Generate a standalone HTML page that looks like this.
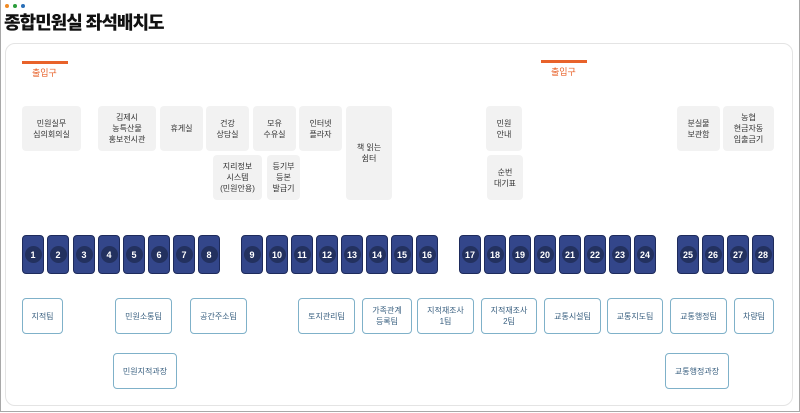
<!DOCTYPE html>
<html><head><meta charset="utf-8"><style>
body{margin:0;width:800px;height:413px;background:#fff;position:relative;overflow:hidden;font-family:"Liberation Sans","Noto Sans CJK KR",sans-serif}
.frame{position:absolute;left:0;top:0;width:798px;height:411px;border:1px solid #a8a8a8;border-top:none}
.dot{position:absolute;top:4px;width:4px;height:4px;border-radius:50%}
.title{position:absolute;left:4px;top:9px;font-size:18px;font-weight:900;color:#111;letter-spacing:-1px}
.panel{position:absolute;left:5px;top:43px;width:786px;height:361px;border:1px solid #e4e4e4;border-radius:10px}
.bar{position:absolute;height:3px;background:#e8622a;width:46px}
.ent{position:absolute;font-size:9px;color:#e8622a}
.r{position:absolute;background:#f2f2f2;border-radius:4px;font-size:8px;color:#333;display:flex;align-items:center;justify-content:center;text-align:center;line-height:11px}
.s{position:absolute;top:235px;width:22px;height:39px;background:#33468a;border:1px solid #1e2b5c;border-radius:4px;box-sizing:border-box;display:flex;align-items:center;justify-content:center}
.s span{width:17px;height:17px;border-radius:50%;background:#23315f;color:#fff;font-size:9px;font-weight:bold;display:flex;align-items:center;justify-content:center}
.t{position:absolute;border:1.5px solid #7fb1c9;border-radius:4px;box-sizing:border-box;font-size:8px;color:#3a6080;display:flex;align-items:center;justify-content:center;text-align:center;line-height:11px;background:#fff}
</style></head><body>
<div class="frame"></div>
<div class="dot" style="left:5px;background:#f08a24"></div>
<div class="dot" style="left:13px;background:#2a9d3a"></div>
<div class="dot" style="left:21px;background:#2a6fb8"></div>
<div class="title">종합민원실 좌석배치도</div>
<div class="panel"></div>
<div class="bar" style="left:22px;top:61px"></div><div class="ent" style="left:32px;top:66px">출입구</div>
<div class="bar" style="left:541px;top:60px"></div><div class="ent" style="left:551px;top:65px">출입구</div>

<div class="r" style="left:22px;top:106px;width:59px;height:45px">민원실무<br>심의회의실</div>
<div class="r" style="left:98px;top:106px;width:58px;height:45px">김제시<br>농특산물<br>홍보전시관</div>
<div class="r" style="left:160px;top:106px;width:43px;height:45px">휴게실</div>
<div class="r" style="left:206px;top:106px;width:43px;height:45px">건강<br>상담실</div>
<div class="r" style="left:253px;top:106px;width:43px;height:45px">모유<br>수유실</div>
<div class="r" style="left:299px;top:106px;width:43px;height:45px">인터넷<br>플라자</div>
<div class="r" style="left:346px;top:106px;width:46px;height:94px">책 읽는<br>쉼터</div>
<div class="r" style="left:213px;top:155px;width:49px;height:45px">지리정보<br>시스템<br>(민원안용)</div>
<div class="r" style="left:267px;top:155px;width:33px;height:45px">등기부<br>등본<br>발급기</div>
<div class="r" style="left:486px;top:106px;width:36px;height:45px">민원<br>안내</div>
<div class="r" style="left:487px;top:155px;width:36px;height:45px">순번<br>대기표</div>
<div class="r" style="left:677px;top:106px;width:43px;height:45px">분실물<br>보관함</div>
<div class="r" style="left:723px;top:106px;width:51px;height:45px">농협<br>현금자동<br>입출금기</div>

<div class="s" style="left:22px"><span>1</span></div>
<div class="s" style="left:47px"><span>2</span></div>
<div class="s" style="left:73px"><span>3</span></div>
<div class="s" style="left:98px"><span>4</span></div>
<div class="s" style="left:123px"><span>5</span></div>
<div class="s" style="left:148px"><span>6</span></div>
<div class="s" style="left:173px"><span>7</span></div>
<div class="s" style="left:198px"><span>8</span></div>
<div class="s" style="left:241px"><span>9</span></div>
<div class="s" style="left:266px"><span>10</span></div>
<div class="s" style="left:291px"><span>11</span></div>
<div class="s" style="left:316px"><span>12</span></div>
<div class="s" style="left:341px"><span>13</span></div>
<div class="s" style="left:366px"><span>14</span></div>
<div class="s" style="left:391px"><span>15</span></div>
<div class="s" style="left:416px"><span>16</span></div>
<div class="s" style="left:459px"><span>17</span></div>
<div class="s" style="left:484px"><span>18</span></div>
<div class="s" style="left:509px"><span>19</span></div>
<div class="s" style="left:534px"><span>20</span></div>
<div class="s" style="left:559px"><span>21</span></div>
<div class="s" style="left:584px"><span>22</span></div>
<div class="s" style="left:609px"><span>23</span></div>
<div class="s" style="left:634px"><span>24</span></div>
<div class="s" style="left:677px"><span>25</span></div>
<div class="s" style="left:702px"><span>26</span></div>
<div class="s" style="left:727px"><span>27</span></div>
<div class="s" style="left:752px"><span>28</span></div>

<div class="t" style="left:22px;top:298px;width:41px;height:36px">지적팀</div>
<div class="t" style="left:115px;top:298px;width:57px;height:36px">민원소통팀</div>
<div class="t" style="left:190px;top:298px;width:57px;height:36px">공간주소팀</div>
<div class="t" style="left:298px;top:298px;width:57px;height:36px">토지관리팀</div>
<div class="t" style="left:362px;top:298px;width:50px;height:36px">가족관계<br>등록팀</div>
<div class="t" style="left:417px;top:298px;width:57px;height:36px">지적재조사<br>1팀</div>
<div class="t" style="left:481px;top:298px;width:56px;height:36px">지적재조사<br>2팀</div>
<div class="t" style="left:544px;top:298px;width:57px;height:36px">교통시설팀</div>
<div class="t" style="left:607px;top:298px;width:56px;height:36px">교통지도팀</div>
<div class="t" style="left:670px;top:298px;width:57px;height:36px">교통행정팀</div>
<div class="t" style="left:734px;top:298px;width:40px;height:36px">차량팀</div>
<div class="t" style="left:113px;top:353px;width:64px;height:36px">민원지적과장</div>
<div class="t" style="left:665px;top:353px;width:64px;height:36px">교통행정과장</div>
</body></html>
